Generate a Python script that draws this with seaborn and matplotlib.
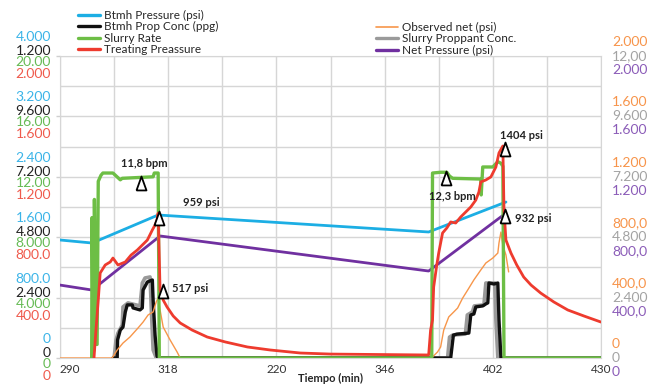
import numpy as np
import pandas as pd
import seaborn as sns
import matplotlib.pyplot as plt
from matplotlib.lines import Line2D
from matplotlib.transforms import blended_transform_factory, ScaledTranslation

# ---- series (time in min) ----
treat_t = [298.8, 299.3, 299.9, 300.4, 301.7, 303.0, 303.7, 305.0, 306.9, 308.4, 310.0, 311.3, 312.6,
           313.9, 314.6, 315.1, 315.4, 315.9, 316.7, 317.7, 319.3, 321.1, 324.2, 328.1, 332.8, 338.5,
           344.4, 352.2, 360.0, 385.4, 385.9, 386.4, 386.7, 387.5, 388.0, 389.0, 390.1, 391.1, 392.4,
           393.7, 395.0, 396.3, 397.6, 398.4, 398.9, 400.2, 401.5, 402.8, 403.6, 404.6, 404.9, 405.4,
           406.7, 408.2, 410.0, 411.9, 414.4, 417.8, 421.4, 425.6, 430.0]
treat_p = [0, 185, 384, 563, 616, 636, 662, 616, 636, 682, 715, 748, 781, 848, 881, 914, 959, 450,
           384, 338, 278, 232, 185, 139, 106, 73, 53, 33, 26, 20, 185, 252, 470, 616, 695, 828, 861,
           901, 894, 934, 967, 1000, 1046, 1099, 1166, 1179, 1199, 1265, 1358, 1404, 980, 781, 695,
           616, 536, 483, 430, 371, 318, 278, 238]

btmh_t = [290, 298.3, 315.4, 385.4, 405.4]
btmh_p = [1563, 1523, 1894, 1669, 2066]

net_t = [290, 298.3, 315.9, 385.4, 404.9]
net_p = [483, 450, 808, 576, 950]

rate_t = [298.2, 298.3, 298.6, 298.8, 298.9, 299.3, 299.6, 299.9, 300.6, 301.1, 303.7, 305.6, 306.1,
          314.1, 314.4, 315.4, 315.7, 385.4, 386.2, 386.4, 388.5, 390.1, 390.8, 391.6, 398.9, 399.0,
          399.4, 402.0, 403.3, 404.1, 404.6, 404.9, 430.0]
rate_v = [0, 9.3, 0.5, 0.5, 10.5, 0.9, 0.9, 11.7, 12.1, 12.25, 12.25, 11.8, 11.9, 12.0, 12.25, 12.25,
          0, 0, 0, 12.25, 12.3, 12.3, 12.05, 11.9, 11.85, 10.8, 12.65, 12.65, 13.0, 12.9, 12.7, 0, 0]

prop_t = [303.7, 304.8, 304.9, 305.6, 306.3, 306.9, 307.4, 308.7, 308.9, 310.7, 311.3, 311.5, 312.6,
          313.9, 314.1, 314.6, 315.1, 315.4, 391.1, 391.8, 392.7, 395.8, 396.3, 397.1, 397.6, 399.4,
          400.2, 400.7, 401.0, 402.3, 403.3, 403.6, 404.1, 430.0]
prop_v = [0, 0, 0.72, 1.11, 1.23, 1.83, 2.11, 2.11, 1.99, 1.91, 1.99, 2.70, 3.02, 3.10, 2.30, 0.91,
          0.08, 0, 0, 0.91, 0.95, 0.99, 1.71, 1.75, 2.03, 2.07, 2.15, 2.19, 2.98, 2.94, 2.98, 1.51, 0, 0]

slurry_t = [304.0, 304.5, 305.0, 306.1, 306.3, 307.6, 310.7, 311.3, 312.0, 313.3, 313.6, 314.1, 314.9,
            390.3, 390.8, 391.6, 394.9, 395.4, 396.7, 397.2, 399.7, 400.2, 402.5, 402.8, 403.3]
slurry_v = [0, 0.72, 0.99, 1.31, 2.03, 2.19, 2.07, 2.98, 3.18, 3.22, 2.03, 0.32, 0, 0, 0.83, 0.91,
            0.95, 1.71, 1.83, 2.07, 2.11, 2.98, 2.98, 1.51, 0]

obs_t = [290, 303.5, 304.8, 306.3, 308.1, 310.2, 311.5, 312.8, 314.1, 314.9, 315.4, 315.9, 316.7,
         318.5, 320.3, 321.1, 386.0, 386.4, 387.7, 388.5, 389.3, 390.6, 391.9, 392.9, 394.2, 395.5,
         397.1, 398.9, 400.2, 402.0, 403.3, 403.6, 404.1, 404.6, 405.4, 406.1]
obs_p = [0, 0, 53, 99, 139, 199, 238, 285, 305, 371, 397, 318, 205, 119, 40, 0, 0, 7, 40, 73, 185,
         272, 305, 331, 397, 450, 517, 583, 629, 662, 695, 762, 834, 748, 682, 570]

# annotations (on treating pressure scale)
ann_t = [311.0, 315.7, 316.7, 389.8, 405.1, 405.1]
ann_v = [1159, 927, 444, 1192, 1384, 940]
ann_txt = ['11,8 bpm', '959 psi', '517 psi', '12,3 bpm', '1404 psi', '932 psi']

# axis ticks / labels
x_ticks = list(range(290, 431, 14))
x_labels = ['290', '', '318', '', '220', '', '346', '', '402', '', '430']

blue_lbl = ['0', '800.0', '1.600', '2.400', '3.200', '4.000']
black_lbl = ['0', '2.400', '4.800', '7.200', '9.600', '1.200']
green_lbl = ['0', '4.000', '8.000', '12.00', '16.00', '20.00']
red_lbl = ['0', '400.0', '800.0', '1.200', '1.600', '2.000']
orange_lbl = ['0', '400,0', '800,0', '1.200', '1.600', '2.000']
gray_lbl = ['0', '2.400', '4.800', '7.200', '9.600', '12,00']
purple_lbl = ['0', '400,0', '800,0', '1.200', '1.600', '2.000']

BLUE, BLACK, GREEN, RED = '#1CAEE4', '#111111', '#6DBE45', '#EE3B2E'
ORANGE, GRAY, PURPLE = '#F7964A', '#9A9A9A', '#7030A0'

sns.set_style('white')
plt.rcParams['font.family'] = ['Lato', 'DejaVu Sans']

fig = plt.figure(figsize=(6.63, 3.87), dpi=100)
ax = fig.add_axes([60 / 663, 29 / 387, 541 / 663, 302 / 387])
ax.set_xlim(290, 430)
ax.set_ylim(0, 2000)

# grid
ax.set_yticks(np.arange(0, 2001, 400))
ax.set_yticks(np.arange(0, 2001, 200), minor=True)
ax.tick_params(axis='y', which='major', left=True, right=True, length=3, width=1,
               color='#cfcfcf', labelleft=False)
ax.tick_params(axis='y', which='minor', length=0)
ax.set_xticks(x_ticks, x_labels)
ax.tick_params(axis='x', length=0, labelsize=8.5, labelcolor='#333333', pad=4)
ax.get_xticklabels()[0].set_horizontalalignment('left')
ax.grid(True, which='both', axis='y', color='#d6d6d6', lw=1)
ax.grid(True, which='major', axis='x', color='#d6d6d6', lw=1)
for sp in ax.spines.values():
    sp.set_color('#d6d6d6')
ax.set_xlabel('Tiempo (min)', fontsize=8, fontweight='bold', labelpad=-1)


def series_axis(t, v, ymax, color, lw):
    tw = ax.twinx()
    tw.set_ylim(0, ymax)
    tw.set_yticks([])
    for sp in tw.spines.values():
        sp.set_visible(False)
    df = pd.DataFrame({'t': t, 'v': v})
    sns.lineplot(data=df, x='t', y='v', ax=tw, color=color, linewidth=lw,
                 sort=False, estimator=None, legend=False)
    tw.set_xlabel('')
    tw.set_ylabel('')
    return tw


def tick_text(tw, ymax, labels, color, side, dy):
    if side == 'left':
        xa, ha, dx = 0, 'right', -9
    else:
        xa, ha, dx = 1, 'left', 11
    tr = blended_transform_factory(tw.transAxes, tw.transData) + \
        ScaledTranslation(dx / 100, dy / 100, fig.dpi_scale_trans)
    for v, s in zip(np.linspace(0, ymax, 6), labels):
        tw.text(xa, v, s, transform=tr, ha=ha, va='center', color=color,
                fontsize=10, clip_on=False)


ax_blue = series_axis(btmh_t, btmh_p, 4000, BLUE, 2.0)
ax_purple = series_axis(net_t, net_p, 2000, PURPLE, 2.0)
ax_gray = series_axis(slurry_t, slurry_v, 12, GRAY, 2.6)
ax_black = series_axis(prop_t, prop_v, 12, BLACK, 2.4)
ax_orange = series_axis(obs_t, obs_p, 2000, ORANGE, 1.0)
ax_green = series_axis(rate_t, rate_v, 20, GREEN, 2.4)
ax_red = series_axis(treat_t, treat_p, 2000, RED, 2.0)
ax_red.set_xlim(290, 430)

tick_text(ax_blue, 4000, blue_lbl, '#3BB4E8', 'left', 19)
tick_text(ax_black, 12, black_lbl, '#222222', 'left', 5)
tick_text(ax_green, 20, green_lbl, '#66BB55', 'left', -6)
tick_text(ax_red, 2000, red_lbl, '#EF5A4C', 'left', -18)
tick_text(ax_orange, 2000, orange_lbl, '#F7944A', 'right', 14)
tick_text(ax_gray, 12, gray_lbl, '#A3A3A3', 'right', 0)
tick_text(ax_purple, 2000, purple_lbl, '#8B5CB8', 'right', -14)

# annotation triangles + labels
tri = [(-0.36, -0.5), (0.36, -0.5), (0, 0.5), (-0.36, -0.5)]
ax_red.plot(ann_t, ann_v, linestyle='none', marker=tri, markersize=10,
            markerfacecolor='white', markeredgecolor='black', markeredgewidth=1.3, zorder=5)
offsets = [(2, 14, 'center'), (30, 11, 'center'), (6, 2, 'left'),
           (5, -13, 'center'), (12, 10, 'center'), (7, -2, 'left')]
for t, v, s, (ox, oy, ha) in zip(ann_t, ann_v, ann_txt, offsets):
    ax_red.annotate(s, (t, v), xytext=(ox, oy), textcoords='offset points',
                    ha=ha, va='center', fontsize=8, fontweight='bold', color='#222222')

# legends
left_h = [Line2D([], [], color=BLUE, lw=2.4), Line2D([], [], color=BLACK, lw=2.4),
          Line2D([], [], color=GREEN, lw=2.4), Line2D([], [], color=RED, lw=2.4)]
left_l = ['Btmh Pressure (psi)', 'Btmh Prop Conc (ppg)', 'Slurry Rate', 'Treating Preassure']
right_h = [Line2D([], [], color=ORANGE, lw=1.2), Line2D([], [], color=GRAY, lw=2.4),
           Line2D([], [], color=PURPLE, lw=2.4)]
right_l = ['Observed net (psi)', 'Slurry Proppant Conc.', 'Net Pressure (psi)']
leg_kw = dict(loc='upper left', frameon=False, fontsize=8.5, handlelength=1.85,
              handletextpad=0.35, labelspacing=0.03, borderpad=0, borderaxespad=0)
fig.legend(handles=left_h, labels=left_l, bbox_to_anchor=(78 / 663, 1 - 10 / 387), **leg_kw)
fig.legend(handles=right_h, labels=right_l, bbox_to_anchor=(376 / 663, 1 - 22 / 387), **leg_kw)

fig.savefig('out.png', dpi=100)
